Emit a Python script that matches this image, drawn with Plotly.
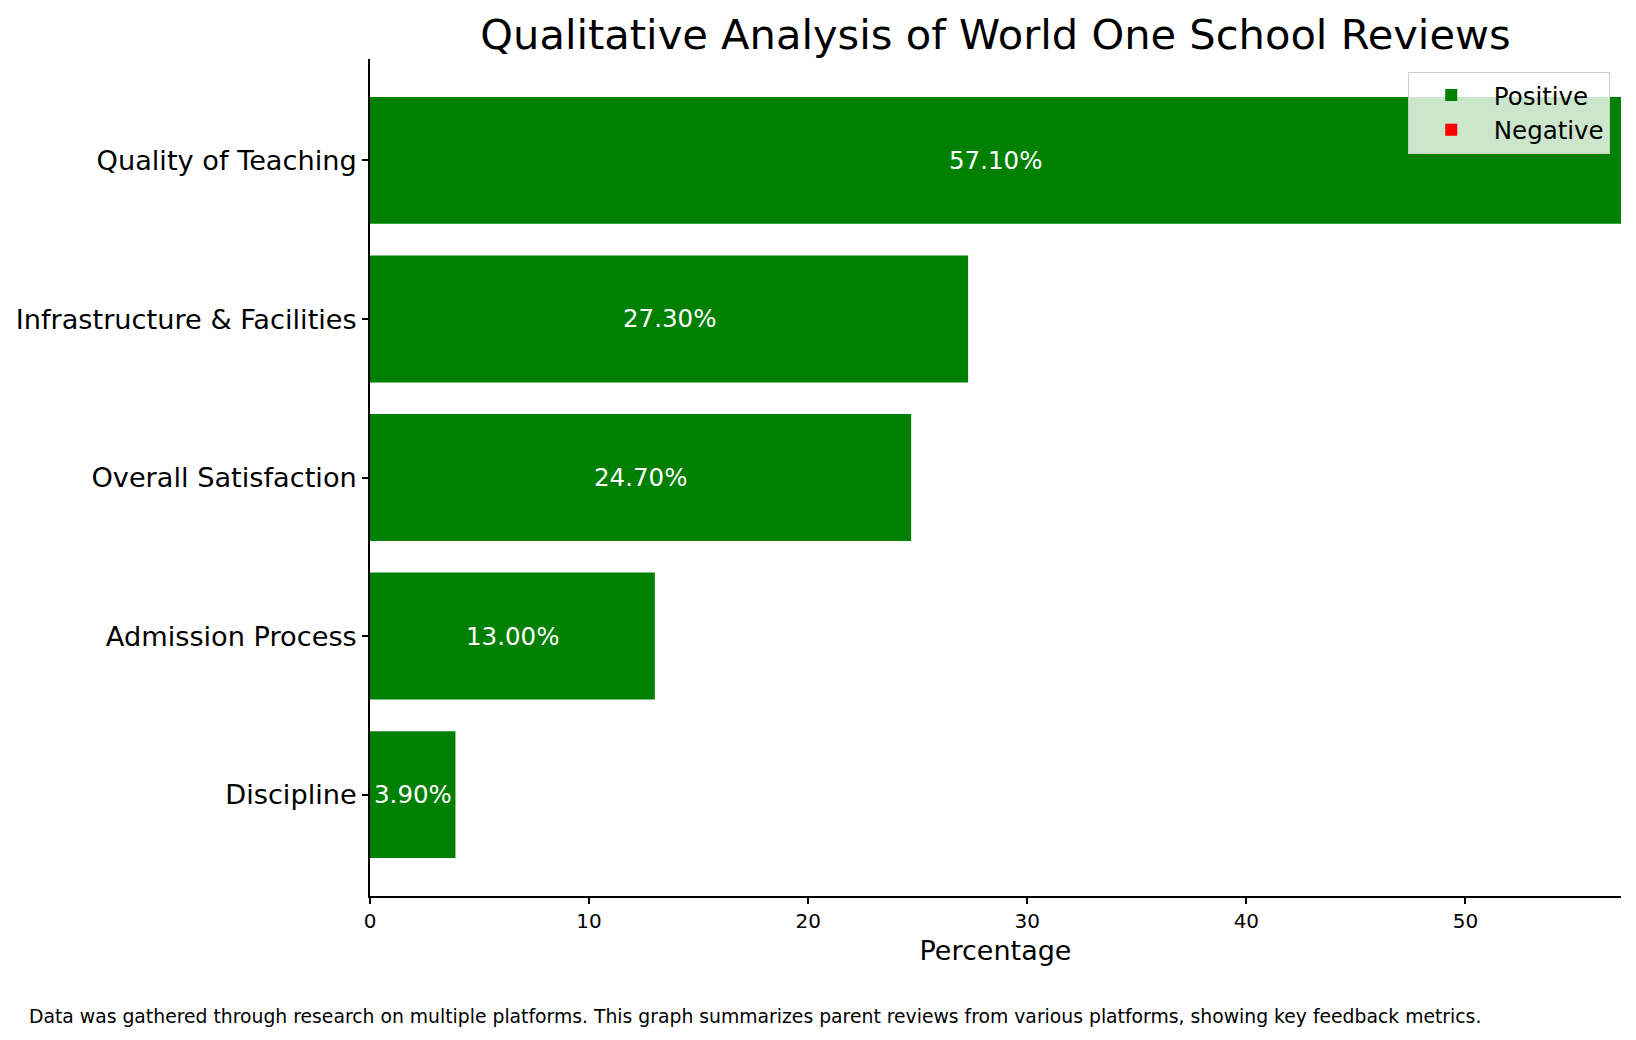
import plotly.graph_objects as go

# --- Data ---
categories = ["Quality of Teaching", "Infrastructure & Facilities", "Overall Satisfaction",
              "Admission Process", "Discipline"]
positive = [57.1, 27.3, 24.7, 13.0, 3.9]
negative = [0, 0, 0, 0, 0]

title_text = "Qualitative Analysis of World One School Reviews"
footnote = ("Data was gathered through research on multiple platforms. This graph summarizes "
            "parent reviews from various platforms, showing key feedback metrics.")

font_family = "DejaVu Sans, Arial, sans-serif"

# the page body has an 8px margin, so the figure is drawn 8px smaller
W, H = 1628, 1032

fig = go.Figure()
fig.add_trace(go.Bar(
    y=categories, x=positive, orientation="h", name="Positive",
    marker=dict(color="green", line=dict(width=0)), width=0.8
))
fig.add_trace(go.Bar(
    y=categories, x=negative, orientation="h", name="Negative",
    marker=dict(color="red", line=dict(width=0)), width=0.8
))

# bar value labels, centred in each bar
for cat, val in zip(categories, positive):
    fig.add_annotation(x=val / 2, y=cat, xref="x", yref="y", text=f"{val:.2f}%",
                       showarrow=False, font=dict(color="white", size=24.5, family=font_family))

# footnote
fig.add_annotation(x=-0.2745, y=-0.1435, xref="paper", yref="paper", xanchor="left", yanchor="middle",
                   text=footnote, showarrow=False, font=dict(size=18.8, color="black", family=font_family))

fig.update_layout(
    width=W, height=H,
    barmode="overlay",
    paper_bgcolor="white", plot_bgcolor="white",
    font=dict(family=font_family, color="black"),
    margin=dict(l=362, r=15, t=51, b=144, autoexpand=False),
    title=dict(text=title_text, x=987.5 / W, xanchor="center",
               y=1 - 26.5 / H, yanchor="middle", font=dict(size=41.6)),
    legend=dict(x=0.991, y=0.985, xanchor="right", yanchor="top",
                bgcolor="rgba(255,255,255,0.8)", bordercolor="#cccccc", borderwidth=1,
                font=dict(size=24.5), traceorder="normal", itemwidth=75),
)
fig.update_xaxes(range=[0, 57.1], tickvals=[0, 10, 20, 30, 40, 50], showgrid=False, zeroline=False,
                 showline=True, linecolor="black", linewidth=1.6, ticks="outside", ticklen=6,
                 tickwidth=1.6, tickcolor="black", tickfont=dict(size=20), automargin=False,
                 title=dict(text="Percentage", font=dict(size=27), standoff=9))
fig.update_yaxes(categoryorder="array", categoryarray=categories[::-1], range=[-0.64, 4.64],
                 showgrid=False, zeroline=False, showline=True, linecolor="black", linewidth=1.6,
                 ticks="outside", ticklen=6, tickwidth=1.6, tickcolor="black", tickfont=dict(size=27.2),
                 automargin=False)

fig.write_html("out.html")
